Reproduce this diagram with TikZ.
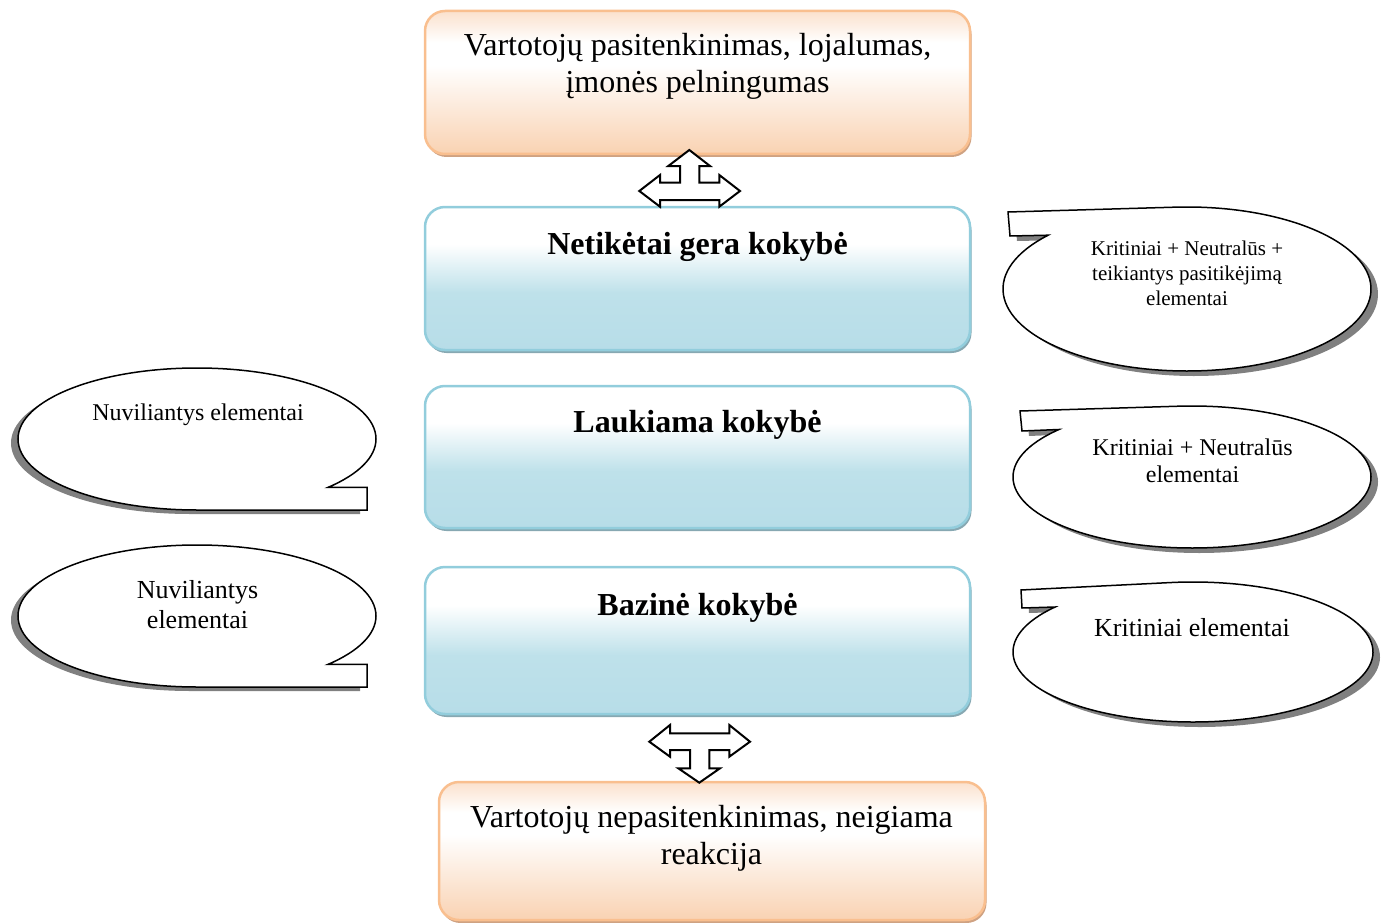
\documentclass[tikz,border=0pt]{standalone}
\usepackage{fontspec}
\setmainfont{Liberation Serif}
\usetikzlibrary{calc}

\definecolor{peachhi}{HTML}{FBE1CD}
\definecolor{peachlo}{HTML}{F9D2B2}
\definecolor{peachline}{HTML}{F9BF8F}
\definecolor{peachshade}{HTML}{CFA282}
\definecolor{bluelo}{HTML}{B7DDE8}
\definecolor{bluemid}{HTML}{BEE1EA}
\definecolor{blueline}{HTML}{92CDDC}
\definecolor{blueshade}{HTML}{87A8B2}
\definecolor{bubshade}{HTML}{808080}

% vertical shadings: 25bp = bottom edge, 75bp = top edge
\pgfdeclareverticalshading{peachgrad}{100bp}{color(0bp)=(peachlo); color(25bp)=(peachlo); color(56bp)=(white); color(64bp)=(white); color(75bp)=(peachhi); color(100bp)=(peachhi)}
\pgfdeclareverticalshading{bluegrad}{100bp}{color(0bp)=(bluelo); color(25bp)=(bluelo); color(45bp)=(bluemid); color(62bp)=(white); color(100bp)=(white)}

% callout: shadow copy first, then the outlined white shape
\newcommand{\speechbubble}[2]{%
  \fill[bubshade,transform canvas={#1}] #2;
  \filldraw[bubble] #2;
}

\begin{document}
\begin{tikzpicture}[x=1pt,y=-1pt,
  obox/.style={rectangle, rounded corners=20pt, draw=peachline, line width=2.5pt,
    shade, shading=peachgrad,
    preaction={fill=peachshade, transform canvas={xshift=1.5pt,yshift=-3pt}}},
  bbox/.style={rectangle, rounded corners=20pt, draw=blueline, line width=2.5pt,
    shade, shading=bluegrad,
    preaction={fill=blueshade, transform canvas={xshift=1.5pt,yshift=-3pt}}},
  bigtext/.style={font=\fontsize{32}{37}\selectfont, align=center, inner sep=0pt},
  headtext/.style={font=\fontsize{32}{37}\selectfont\bfseries, inner sep=0pt, anchor=base},
  bubble/.style={draw=black, fill=white, line width=1.5pt, line join=miter},
  bubtext/.style={align=center, inner sep=0pt},
  blockarrow/.style={draw=black, fill=white, line width=2pt, line join=miter}]

\useasboundingbox (0,0) rectangle (1384,923);

% quality levels and outcomes
\node[obox, minimum width=545pt, minimum height=143pt] (goal) at (697.5,82.5) {};
\node[bbox, minimum width=545pt, minimum height=143pt] (unexp) at (697.5,278.5) {};
\node[bbox, minimum width=545pt, minimum height=142pt] (expect) at (697.5,457) {};
\node[bbox, minimum width=545pt, minimum height=147pt] (basic) at (697.5,640.5) {};
\node[obox, minimum width=546pt, minimum height=138pt] (fail) at (712,851) {};

\node[bigtext] (goaltxt) at (697.5,66) {Vartotojų pasitenkinimas, lojalumas,\\įmonės pelningumas};
\node[headtext] (unexptxt) at (697.5,254) {Netikėtai gera kokybė};
\node[headtext] (expecttxt) at (697.5,432) {Laukiama kokybė};
\node[headtext] (basictxt) at (697.5,615) {Bazinė kokybė};
\node[bigtext] (failtxt) at (711.5,838) {Vartotojų nepasitenkinimas, neigiama\\reakcija};

% block arrows between the levels and the outcomes
\draw[blockarrow] (689.3,150) -- (710,166) -- (699.3,166) -- (699.3,182.7) -- (719.3,182.7)
  -- (719.3,175) -- (740,191) -- (719.3,206.7) -- (719.3,200) -- (660,200) -- (660,206.7)
  -- (639.3,191) -- (660,175) -- (660,182.7) -- (680,182.7) -- (680,166) -- (668.3,166) -- cycle;
\draw[blockarrow] (649.3,741.7) -- (670,725) -- (670,733.3) -- (729.3,733.3) -- (729.3,725)
  -- (750,741.7) -- (729.3,756.7) -- (729.3,750) -- (709.3,750) -- (709.3,768.3) -- (720,768.3)
  -- (699.3,782.7) -- (678.3,768.3) -- (690,768.3) -- (690,750) -- (670,750) -- (670,756.7) -- cycle;

% callouts on the right
\speechbubble{xshift=7pt,yshift=-5pt}{(1008,212) -- (1010,236) -- ($(1187,289)+(221:184 and 82)$)
  arc[start angle=221,end angle=-94,x radius=184,y radius=82] -- cycle}
\speechbubble{xshift=7pt,yshift=-5pt}{(1020,411) -- (1022,431) -- ($(1192,477)+(222:179 and 71)$)
  arc[start angle=222,end angle=-94.5,x radius=179,y radius=71] -- cycle}
\speechbubble{xshift=7pt,yshift=-5pt}{(1021,590) -- (1022,608) -- ($(1193,652)+(220:180 and 70)$)
  arc[start angle=220,end angle=-97.5,x radius=180,y radius=70] -- cycle}

% callouts on the left
\speechbubble{xshift=-7pt,yshift=-4pt}{(367,510) -- (197,510)
  arc[start angle=90,end angle=403,x radius=179,y radius=71] -- (367,487.4) -- cycle}
\speechbubble{xshift=-7pt,yshift=-4pt}{(367,687) -- (197,687)
  arc[start angle=90,end angle=403,x radius=179,y radius=71] -- (367,664.4) -- cycle}

\node[bubtext, font=\fontsize{21}{25}\selectfont] (crit3) at (1187,273.5) {Kritiniai + Neutralūs +\\teikiantys pasitikėjimą\\elementai};
\node[bubtext, font=\fontsize{24}{27}\selectfont] (crit2) at (1192.5,461) {Kritiniai + Neutralūs\\elementai};
\node[bubtext, font=\fontsize{26}{30}\selectfont, anchor=base] (crit1) at (1192,636) {Kritiniai elementai};
\node[bubtext, font=\fontsize{24}{27}\selectfont, anchor=base] (dis1) at (198,420) {Nuviliantys elementai};
\node[bubtext, font=\fontsize{26}{30}\selectfont] (dis2) at (197.5,605) {Nuviliantys\\elementai};

\end{tikzpicture}
\end{document}
